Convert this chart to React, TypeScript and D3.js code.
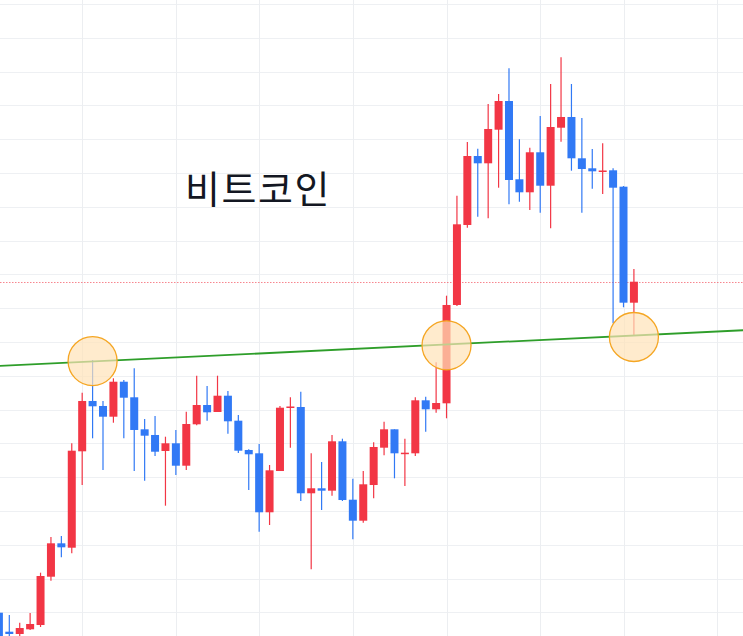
import React from "react";
import * as d3 from "d3";

const W = 743;
const H = 636;

const opens = [19991, 19429, 19361, 19500, 19627, 21056, 22044, 21914, 24766, 26255, 26107, 25790, 26825, 26364, 25417, 25249, 24775, 25003, 24340, 25565, 26136, 25929, 26411, 25672, 24805, 24707, 22962, 24183, 26062, 26077, 23524, 23672, 23601, 25062, 23334, 22713, 23769, 24873, 25417, 24701, 24707, 26275, 26009, 26186, 29095, 31462, 33503, 33287, 34281, 35130, 32814, 32429, 33613, 32624, 34340, 34657, 33435, 33139, 33044, 33080, 32595, 29163];
const highs = [20130, 19923, 19695, 19982, 21175, 22231, 22260, 25003, 26500, 27467, 26255, 26926, 26876, 27222, 25722, 25811, 25198, 25397, 25938, 27003, 26698, 27003, 26550, 25840, 24826, 24982, 24361, 26107, 26364, 26530, 24707, 24450, 25249, 25139, 23956, 24183, 25033, 25642, 25417, 25139, 26364, 26382, 27400, 29370, 32328, 33917, 33719, 35041, 35337, 36098, 33997, 33749, 34687, 35633, 36423, 35633, 34627, 33710, 33879, 33139, 32615, 30160];
const lows = [18888, 19243, 19272, 19479, 19568, 20938, 21630, 21749, 23769, 25151, 24213, 25612, 25151, 24183, 23896, 24627, 23157, 24065, 24213, 25536, 25672, 25929, 25287, 24716, 23621, 22388, 22586, 24183, 24873, 23296, 21275, 23030, 23453, 23296, 22163, 22654, 23376, 24648, 23967, 23740, 24627, 25346, 25908, 25743, 29065, 31382, 31707, 31660, 32565, 32074, 32151, 31905, 31826, 31364, 33926, 33068, 31826, 32536, 32379, 28553, 29027, 28178];
const closes = [19035, 19361, 19538, 19657, 21077, 22044, 21926, 24784, 26255, 26098, 25790, 26825, 26352, 25397, 25228, 24754, 25003, 24340, 25574, 26136, 25920, 26411, 25654, 24784, 24678, 22962, 24204, 26056, 26092, 23524, 23672, 23601, 25062, 23325, 22713, 23790, 24894, 25417, 24707, 24725, 26275, 26009, 26195, 29095, 31482, 33503, 33287, 34302, 35130, 32793, 32429, 33613, 32624, 34361, 34657, 33435, 33118, 33050, 33074, 32565, 29163, 29784];

const gridXIdx = [8, 17, 25, 34, 43, 52, 60, 69];
const gridPrices = d3.range(20000, 38001, 1000);

const trendPoints = [
  { i: -1, p: 27275 },
  { i: 72, p: 28356 },
];
const touchPoints = [
  { i: 9, p: 27437 },
  { i: 43, p: 27902 },
  { i: 61, p: 28148 },
];
const title = "비트코인";

const UP = "#f23645";
const DOWN = "#3179f5";

export default function App() {
  const x = d3.scaleLinear().domain([0, 70]).range([-1.1, 727.6]);
  const y = d3.scaleLinear().domain([20000, 38000]).range([612.4, 4]);
  const bw = 8;
  const lastClose = closes[closes.length - 1];
  const trend = d3
    .line<{ i: number; p: number }>()
    .x((d) => x(d.i))
    .y((d) => y(d.p));

  return (
    <>
      <style>{`body{margin:0;background:#fff}`}</style>
      <svg width={W} height={H} style={{ display: "block" }}>
        <rect width={W} height={H} fill="#ffffff" />
        <g>
          {gridPrices.map((p) => (
            <line key={"h" + p} x1={0} x2={W} y1={Math.round(y(p)) + 0.5} y2={Math.round(y(p)) + 0.5} stroke="#eef0f3" strokeWidth={1} />
          ))}
          {gridXIdx.map((i) => (
            <line key={"v" + i} x1={Math.round(x(i)) + 0.5} x2={Math.round(x(i)) + 0.5} y1={0} y2={H} stroke="#eceef1" strokeWidth={1} />
          ))}
        </g>
        <line
          x1={0}
          x2={W}
          y1={Math.round(y(lastClose)) + 0.5}
          y2={Math.round(y(lastClose)) + 0.5}
          stroke={UP}
          strokeOpacity={0.6}
          strokeWidth={1}
          strokeDasharray="1.5 1.5"
        />
        <g>
          {opens.map((o, i) => {
            const c = closes[i];
            const up = c >= o;
            const col = up ? UP : DOWN;
            const cx = x(i);
            const top = y(Math.max(o, c));
            const bot = y(Math.min(o, c));
            const hgt = Math.max(1.5, bot - top);
            return (
              <g key={i}>
                <line x1={cx} x2={cx} y1={y(highs[i])} y2={y(lows[i])} stroke={col} strokeWidth={1.2} />
                <rect x={cx - bw / 2} y={top} width={bw} height={hgt} fill={col} />
              </g>
            );
          })}
        </g>
        <path d={trend(trendPoints) || ""} fill="none" stroke="#2e9e2a" strokeWidth={1.8} />
        {touchPoints.map((t, k) => (
          <circle
            key={k}
            cx={x(t.i)}
            cy={y(t.p)}
            r={24.5}
            fill="#ffe2b8"
            fillOpacity={0.7}
            stroke="#f5a623"
            strokeWidth={1.3}
          />
        ))}
        <text
          x={185}
          y={203}
          fontFamily="'Noto Sans CJK KR', 'Noto Sans', sans-serif"
          fontSize={38}
          fill="#131722"
          letterSpacing={1.5}
        >
          {title}
        </text>
      </svg>
    </>
  );
}
